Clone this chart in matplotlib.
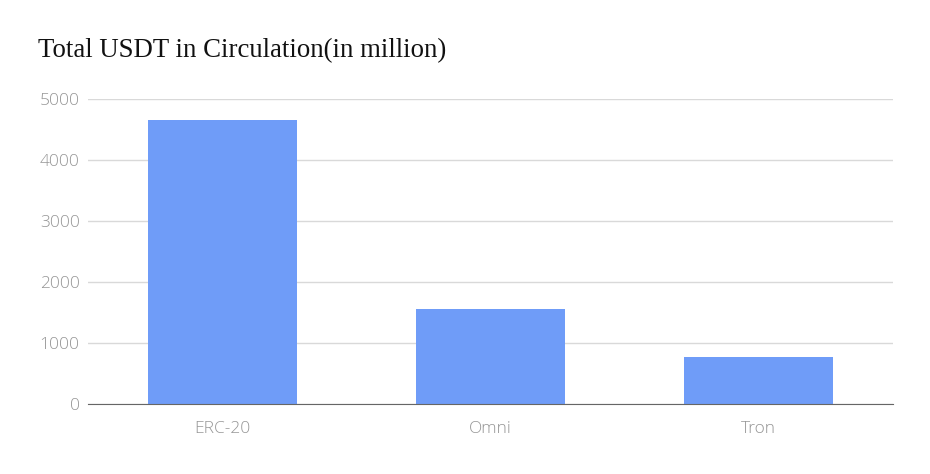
import matplotlib
matplotlib.use("Agg")
import matplotlib.pyplot as plt

categories = ["ERC-20", "Omni", "Tron"]
values = [4660, 1555, 770]
yticks = [0, 1000, 2000, 3000, 4000, 5000]

fig = plt.figure(figsize=(9.3, 4.74), dpi=100)
ax = fig.add_axes([0.0946, 0.1477, 0.8656, 0.6435])

ax.bar(categories, values, width=0.555, color="#6f9cf8", zorder=3)
ax.set_xlim(-0.5, 2.5)
ax.set_ylim(0, 5000)
ax.set_yticks(yticks)
ax.grid(axis="y", color="#d9d9d9", linewidth=1, zorder=0)

for side in ["top", "right", "left"]:
    ax.spines[side].set_visible(False)
ax.spines["bottom"].set_color("#666666")
ax.spines["bottom"].set_zorder(4)

ax.tick_params(axis="both", length=0, labelcolor="#969696", labelsize=12.5)
ax.tick_params(axis="y", pad=6)
ax.tick_params(axis="x", pad=12)
for lab in ax.get_xticklabels() + ax.get_yticklabels():
    lab.set_family(["Open Sans", "DejaVu Sans"])
    lab.set_fontweight("light")

fig.text(0.041, 0.893, "Total USDT in Circulation(in million)",
         family="Liberation Serif", fontsize=19.3, color="#111111", va="center")

fig.savefig("out.png", dpi=100)
